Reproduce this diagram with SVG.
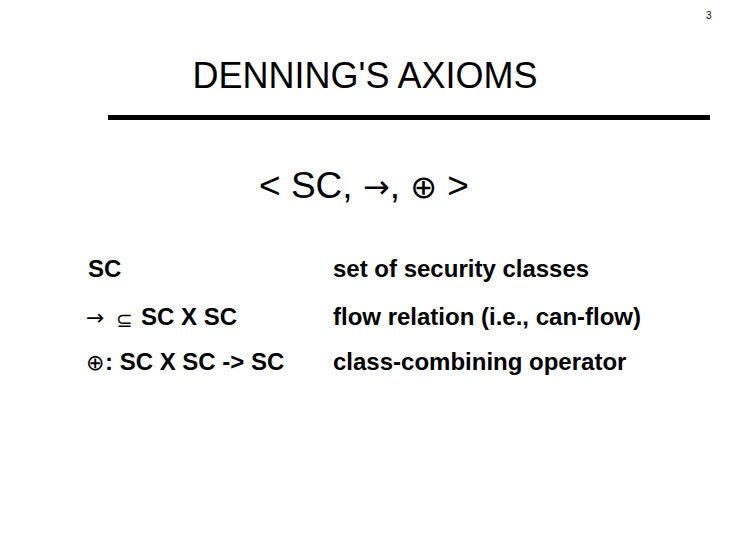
<svg xmlns="http://www.w3.org/2000/svg" width="729" height="551" viewBox="0 0 729 551">
<style>
.t{font-family:"Liberation Sans",Arial,sans-serif;fill:#000}
.b{font-family:"Liberation Sans",Arial,sans-serif;font-weight:bold;font-size:24px;fill:#000}
.s{font-family:"DejaVu Sans",sans-serif;font-weight:normal}
</style>
<rect width="729" height="551" fill="#fff"/>
<text class="t" x="706" y="19" font-size="10">3</text>
<text class="t" x="365" y="88" font-size="36" text-anchor="middle">DENNING'S AXIOMS</text>
<rect x="108" y="115" width="602" height="5" fill="#000"/>
<text class="t" x="364" y="198" font-size="37" text-anchor="middle">&lt; SC, <tspan class="s" font-size="32">→</tspan>, <tspan class="s" font-size="32">⊕</tspan> &gt;</text>
<text class="b" x="88" y="277">SC</text>
<text class="b" x="333" y="277">set of security classes</text>
<text class="s" x="86" y="325" font-size="22">→</text>
<text class="s" x="116" y="327" font-size="20">⊆</text>
<text class="b" x="141" y="325">SC X SC</text>
<text class="b" x="333" y="325">flow relation (i.e., can-flow)</text>
<text class="s" x="86" y="370" font-size="22">⊕</text>
<text class="b" x="105" y="370">:  SC X SC -&gt; SC</text>
<text class="b" x="333" y="370">class-combining operator</text>
</svg>
